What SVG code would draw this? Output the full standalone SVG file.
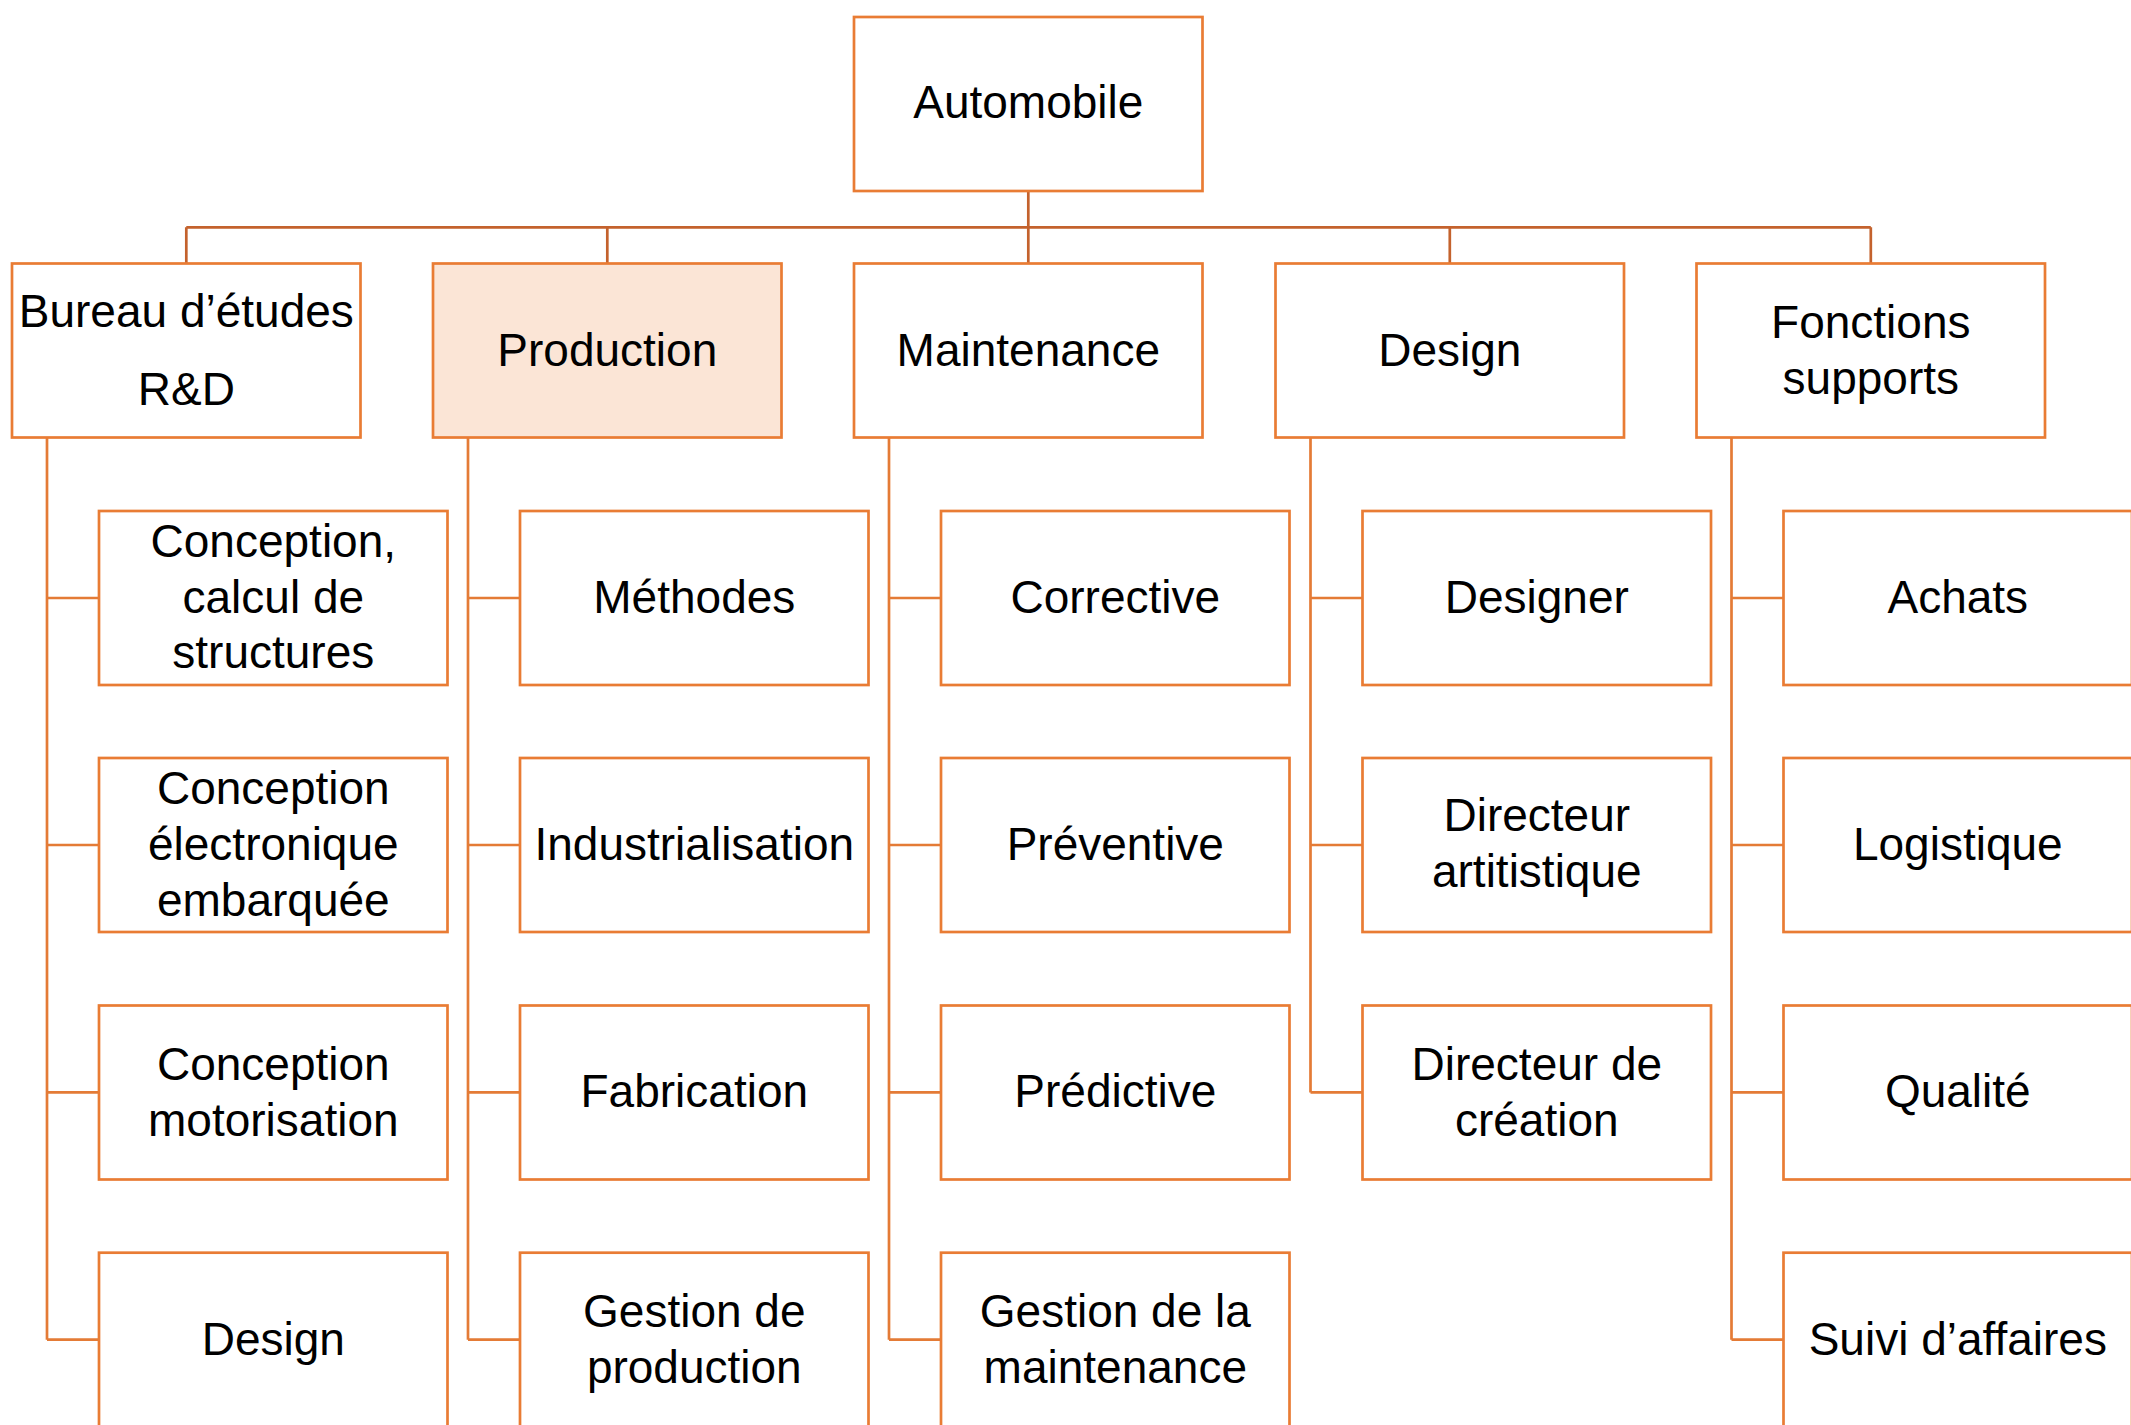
<svg xmlns="http://www.w3.org/2000/svg" width="2131" height="1425" viewBox="0 0 2131 1425">
<style>
.box{fill:#FFFFFF;stroke:#E97C34;stroke-width:2.7}
.hl{fill:#FBE5D6}
.t{font-family:"Liberation Sans",Arial,sans-serif;font-size:46px;fill:#000;text-anchor:middle}
.c1{fill:none;stroke:#C4622D;stroke-width:2.7}
.c2{fill:none;stroke:#E47B36;stroke-width:2.7}
</style>
<rect width="2131" height="1425" fill="#FFFFFF"/>
<g id="connectors">
<path class="c1" d="M1028.3 191V227.3M186.3 227.3H1870.8M186.3 227.3V263.5M607.3 227.3V263.5M1028.3 227.3V263.5M1449.8 227.3V263.5M1870.8 227.3V263.5"/>
<path class="c2" d="M47 437.5V1339.7M47 598H99M47 845H99M47 1092.4H99M47 1339.7H99"/>
<path class="c2" d="M468 437.5V1339.7M468 598H520M468 845H520M468 1092.4H520M468 1339.7H520"/>
<path class="c2" d="M889 437.5V1339.7M889 598H941M889 845H941M889 1092.4H941M889 1339.7H941"/>
<path class="c2" d="M1310.5 437.5V1092.4M1310.5 598H1362.5M1310.5 845H1362.5M1310.5 1092.4H1362.5"/>
<path class="c2" d="M1731.5 437.5V1339.7M1731.5 598H1783.5M1731.5 845H1783.5M1731.5 1092.4H1783.5M1731.5 1339.7H1783.5"/>
</g>
<g id="automobile"><rect class="box" x="854" y="17" width="348.5" height="174"/><text class="t" x="1028.3" y="118">Automobile</text></g>
<g id="bureau"><rect class="box" x="12" y="263.5" width="348.5" height="174"/><text class="t" x="186.3" y="327">Bureau d’études</text><text class="t" x="186.3" y="405">R&amp;D</text></g>
<g id="production"><rect class="box hl" x="433" y="263.5" width="348.5" height="174"/><text class="t" x="607.3" y="366">Production</text></g>
<g id="maintenance"><rect class="box" x="854" y="263.5" width="348.5" height="174"/><text class="t" x="1028.3" y="366">Maintenance</text></g>
<g id="design"><rect class="box" x="1275.5" y="263.5" width="348.5" height="174"/><text class="t" x="1449.8" y="366">Design</text></g>
<g id="fonctions"><rect class="box" x="1696.5" y="263.5" width="348.5" height="174"/><text class="t" x="1870.8" y="338">Fonctions</text><text class="t" x="1870.8" y="394">supports</text></g>

<g id="bureau-1"><rect class="box" x="99" y="511" width="348.5" height="174"/><text class="t" x="273.3" y="557">Conception,</text><text class="t" x="273.3" y="613">calcul de</text><text class="t" x="273.3" y="668">structures</text></g>
<g id="bureau-2"><rect class="box" x="99" y="758" width="348.5" height="174"/><text class="t" x="273.3" y="804">Conception</text><text class="t" x="273.3" y="860">électronique</text><text class="t" x="273.3" y="916">embarquée</text></g>
<g id="bureau-3"><rect class="box" x="99" y="1005.5" width="348.5" height="174"/><text class="t" x="273.3" y="1080">Conception</text><text class="t" x="273.3" y="1136">motorisation</text></g>
<g id="bureau-4"><rect class="box" x="99" y="1252.7" width="348.5" height="174"/><text class="t" x="273.3" y="1355">Design</text></g>

<g id="production-1"><rect class="box" x="520" y="511" width="348.5" height="174"/><text class="t" x="694.3" y="613">Méthodes</text></g>
<g id="production-2"><rect class="box" x="520" y="758" width="348.5" height="174"/><text class="t" x="694.3" y="860">Industrialisation</text></g>
<g id="production-3"><rect class="box" x="520" y="1005.5" width="348.5" height="174"/><text class="t" x="694.3" y="1107">Fabrication</text></g>
<g id="production-4"><rect class="box" x="520" y="1252.7" width="348.5" height="174"/><text class="t" x="694.3" y="1327">Gestion de</text><text class="t" x="694.3" y="1383">production</text></g>

<g id="maintenance-1"><rect class="box" x="941" y="511" width="348.5" height="174"/><text class="t" x="1115.3" y="613">Corrective</text></g>
<g id="maintenance-2"><rect class="box" x="941" y="758" width="348.5" height="174"/><text class="t" x="1115.3" y="860">Préventive</text></g>
<g id="maintenance-3"><rect class="box" x="941" y="1005.5" width="348.5" height="174"/><text class="t" x="1115.3" y="1107">Prédictive</text></g>
<g id="maintenance-4"><rect class="box" x="941" y="1252.7" width="348.5" height="174"/><text class="t" x="1115.3" y="1327">Gestion de la</text><text class="t" x="1115.3" y="1383">maintenance</text></g>

<g id="design-1"><rect class="box" x="1362.5" y="511" width="348.5" height="174"/><text class="t" x="1536.8" y="613">Designer</text></g>
<g id="design-2"><rect class="box" x="1362.5" y="758" width="348.5" height="174"/><text class="t" x="1536.8" y="831">Directeur</text><text class="t" x="1536.8" y="887">artitistique</text></g>
<g id="design-3"><rect class="box" x="1362.5" y="1005.5" width="348.5" height="174"/><text class="t" x="1536.8" y="1080">Directeur de</text><text class="t" x="1536.8" y="1136">création</text></g>

<g id="fonctions-1"><rect class="box" x="1783.5" y="511" width="348.5" height="174"/><text class="t" x="1957.8" y="613">Achats</text></g>
<g id="fonctions-2"><rect class="box" x="1783.5" y="758" width="348.5" height="174"/><text class="t" x="1957.8" y="860">Logistique</text></g>
<g id="fonctions-3"><rect class="box" x="1783.5" y="1005.5" width="348.5" height="174"/><text class="t" x="1957.8" y="1107">Qualité</text></g>
<g id="fonctions-4"><rect class="box" x="1783.5" y="1252.7" width="348.5" height="174"/><text class="t" x="1957.8" y="1355">Suivi d’affaires</text></g>
</svg>
